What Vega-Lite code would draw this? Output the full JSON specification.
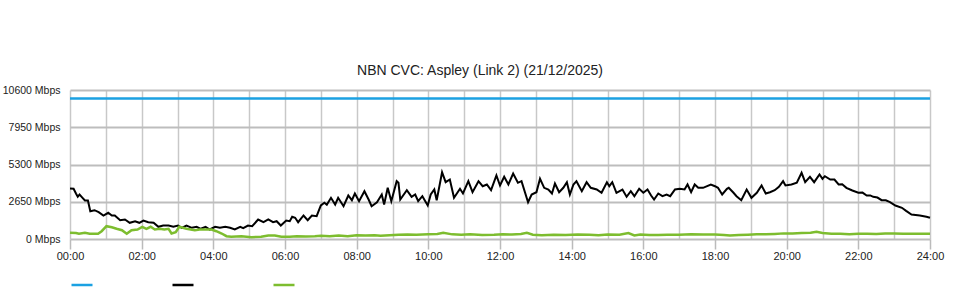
{
  "$schema": "https://vega.github.io/schema/vega-lite/v6.json",
  "width": 860,
  "height": 149,
  "autosize": {"type": "none"},
  "padding": {"left": 70, "top": 90, "right": 30, "bottom": 61},
  "background": "white",
  "title": {
    "text": "NBN CVC: Aspley (Link 2) (21/12/2025)",
    "font": "Liberation Sans",
    "fontSize": 14,
    "fontWeight": "normal",
    "color": "#222",
    "offset": 7,
    "dx": -20
  },
  "config": {
    "view": {"stroke": null},
    "font": "Liberation Sans"
  },
  "datasets": {
    "black": [
      [0,3590],[6,3571],[10,3237],[13,3002],[16,3166],[21,2931],[25,2739],[30,2739],[34,1978],[41,2049],[48,1907],[56,1672],[64,1864],[70,1672],[75,1672],[84,1337],[92,1387],[100,1152],[109,1266],[116,1152],[123,1316],[131,1195],[140,1152],[148,868],[156,960],[165,960],[173,868],[181,960],[187,797],[195,960],[204,797],[212,868],[219,726],[227,868],[234,676],[243,868],[251,797],[260,868],[268,797],[276,676],[285,868],[290,768],[298,960],[305,911],[315,1387],[324,1195],[332,1387],[340,1195],[346,1266],[353,960],[362,1316],[368,1266],[372,1579],[377,1508],[382,1195],[391,1672],[398,1337],[405,1672],[413,1622],[420,2383],[426,2575],[430,2433],[437,2931],[444,2454],[449,2931],[458,2333],[466,3095],[472,2760],[477,3237],[484,2689],[493,3401],[500,2810],[505,2333],[514,2618],[522,3166],[526,2454],[532,3642],[538,2689],[547,4112],[550,3998],[553,2810],[564,3472],[572,3002],[578,3166],[583,2689],[590,3045],[599,2383],[604,3166],[610,3521],[614,2760],[623,4752],[629,4041],[636,4233],[643,2931],[653,3571],[658,3237],[667,4112],[674,3329],[684,4112],[691,3756],[698,3877],[705,3472],[714,4517],[720,3806],[727,4425],[734,3877],[742,4660],[750,3998],[756,4112],[767,2618],[773,3166],[781,3329],[787,4283],[794,3642],[801,3521],[807,3237],[812,3948],[819,3329],[826,3642],[832,4041],[837,3166],[843,3877],[848,4112],[857,3401],[865,4041],[872,3642],[882,3521],[890,3287],[899,4041],[903,3756],[908,4041],[915,3287],[925,3521],[932,3002],[939,3401],[945,3045],[953,3571],[960,3287],[967,3521],[973,3095],[978,2810],[985,3237],[992,3045],[999,3166],[1005,3045],[1013,3521],[1021,3571],[1029,3521],[1034,3877],[1040,3329],[1046,3877],[1052,3642],[1060,3642],[1073,3877],[1080,3756],[1085,3642],[1092,3166],[1100,3571],[1103,3642],[1111,3287],[1116,3045],[1124,2760],[1133,3521],[1141,2931],[1150,3287],[1158,3806],[1165,3237],[1172,3329],[1180,3472],[1187,3713],[1194,4112],[1198,3806],[1208,3877],[1217,3998],[1225,4709],[1231,4041],[1239,4425],[1246,4041],[1255,4589],[1260,4283],[1264,4468],[1273,4233],[1280,4233],[1287,3877],[1293,3900],[1300,3642],[1310,3450],[1320,3287],[1327,3300],[1334,3095],[1340,3100],[1345,3002],[1352,2950],[1359,2760],[1366,2750],[1373,2618],[1382,2383],[1393,2220],[1400,2000],[1409,1743],[1423,1672],[1434,1579],[1440,1508]
    ],
    "green": [
      [0,440],[10,420],[15,370],[25,440],[33,370],[47,370],[53,555],[61,911],[70,840],[78,726],[87,626],[95,370],[103,626],[113,676],[121,868],[128,726],[135,868],[142,676],[150,726],[158,676],[165,726],[170,391],[177,484],[183,868],[195,726],[209,626],[217,676],[228,676],[237,676],[245,555],[254,391],[262,200],[270,156],[287,200],[304,128],[320,156],[332,249],[343,249],[354,156],[368,156],[380,200],[395,180],[410,200],[420,230],[435,200],[450,250],[465,200],[480,270],[495,250],[510,270],[520,230],[535,270],[550,300],[565,320],[580,300],[600,330],[615,350],[625,440],[640,330],[655,300],[670,330],[690,280],[710,300],[725,330],[740,320],[755,360],[765,440],[775,300],[790,270],[810,300],[830,280],[850,320],[870,300],[885,260],[900,320],[920,300],[935,420],[945,250],[955,320],[970,280],[985,280],[1000,300],[1020,300],[1040,330],[1060,320],[1080,320],[1095,280],[1105,250],[1120,280],[1135,300],[1150,330],[1165,330],[1180,360],[1195,400],[1210,400],[1225,420],[1240,450],[1250,512],[1260,420],[1275,380],[1290,370],[1305,340],[1320,370],[1335,380],[1350,360],[1365,390],[1380,400],[1395,380],[1410,380],[1425,370],[1440,370]
    ],
    "blue": [[0,10000],[1440,10000]]
  },
  "encoding": {
    "x": {
      "field": "0", "type": "quantitative",
      "scale": {"domain": [0, 1440], "nice": false, "zero": false},
      "axis": {
        "title": null,
        "values": [0,60,120,180,240,300,360,420,480,540,600,660,720,780,840,900,960,1020,1080,1140,1200,1260,1320,1380,1440],
        "labelExpr": "datum.value % 120 === 0 ? ((datum.value/60 < 10 ? '0' : '') + (datum.value/60) + ':00') : ''",
        "grid": true,
        "gridColor": "#c8c8c8",
        "gridWidth": 1.5,
        "gridOpacity": 1,
        "domain": false,
        "tickSize": 10,
        "tickColor": "#bbbbbb",
        "tickWidth": 1.5,
        "tickOpacity": {"condition": {"test": "datum.value % 120 === 0", "value": 1}, "value": 0},
        "labelFont": "Liberation Sans",
        "labelFontSize": 11,
        "labelColor": "#222",
        "labelPadding": 1,
        "labelFlush": false,
        "labelOverlap": false
      }
    },
    "y": {
      "field": "1", "type": "quantitative",
      "scale": {"domain": [0, 10600], "nice": false},
      "axis": {
        "title": null,
        "values": [0, 2650, 5300, 7950, 10600],
        "labelExpr": "datum.value + ' Mbps'",
        "grid": true,
        "gridColor": "#bdbdbd",
        "gridWidth": 2,
        "domain": false,
        "ticks": false,
        "labelPadding": 10,
        "labelOverlap": false,
        "labelFont": "Liberation Sans",
        "labelFontSize": 10.5,
        "labelColor": "#222"
      }
    },
    "color": {
      "field": "s", "type": "nominal",
      "scale": {"domain": ["Capacity", "Download", "Upload"], "range": ["#1ba1e2", "#000000", "#7dbd2f"]},
      "legend": {
        "orient": "none",
        "legendX": 0,
        "legendY": 183,
        "direction": "horizontal",
        "title": null,
        "symbolType": "stroke",
        "symbolSize": 441,
        "symbolStrokeWidth": 2.5,
        "labelExpr": "''",
        "labelOffset": 0,
        "columnPadding": 69,
        "padding": 0
      }
    }
  },
  "layer": [
    {
      "data": {"name": "blue"},
      "transform": [{"calculate": "'Capacity'", "as": "s"}],
      "mark": {"type": "line", "strokeWidth": 2.5}
    },
    {
      "data": {"name": "black"},
      "transform": [{"calculate": "'Download'", "as": "s"}],
      "mark": {"type": "line", "strokeWidth": 2}
    },
    {
      "data": {"name": "green"},
      "transform": [{"calculate": "'Upload'", "as": "s"}],
      "mark": {"type": "line", "strokeWidth": 2.5}
    }
  ]
}
